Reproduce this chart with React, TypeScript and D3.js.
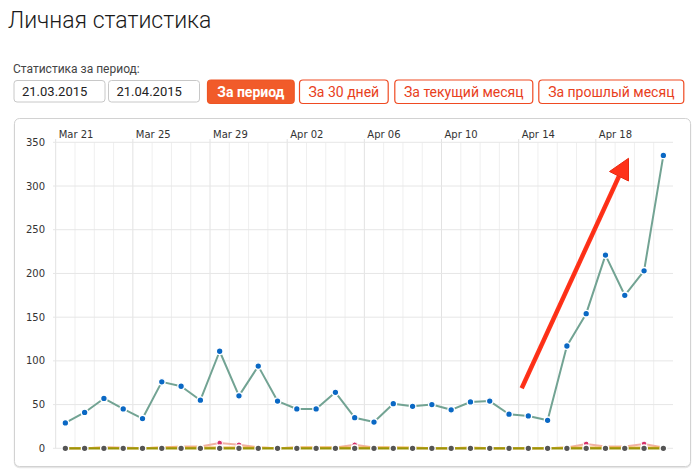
import React from "react";
import * as d3 from "d3";

const W = 700;
const H = 476;

// Data
const startDate = Date.UTC(2015, 2, 21);
const endDate = Date.UTC(2015, 3, 22);
const visits = [29, 41, 57, 45, 34, 76, 71, 55, 111, 60, 94, 54, 45, 45, 64, 35, 30, 51, 48, 50, 44, 53, 54, 39, 37, 32, 117, 154, 221, 175, 203, 335];
const pinkSeries = [0, 0, 1, 1, 0, 1, 2, 2, 6, 4, 1, 0, 1, 1, 1, 4, 1, 1, 0, 0, 0, 0, 0, 0, 0, 0, 1, 5, 2, 2, 5, 1];
const orangeSeries = [0, 0, 1, 0, 0, 1, 1, 1, 1, 1, 1, 0, 1, 1, 1, 1, 1, 1, 1, 0, 0, 1, 0, 0, 0, 0, 1, 1, 1, 1, 1, 1];
const oliveSeries = visits.map(() => 0);
const greySeries = visits.map(() => 0);
const yTicks = [0, 50, 100, 150, 200, 250, 300, 350];
const buttons = ["За период", "За 30 дней", "За текущий месяц", "За прошлый месяц"];
const dateInputs = ["21.03.2015", "21.04.2015"];

const DAY = 86400000;
const dates = visits.map((_, i) => new Date(startDate + i * DAY + DAY / 2));

export default function App() {
  const x = d3.scaleUtc().domain([new Date(startDate), new Date(endDate)]).range([55.7, 673]);
  const y = d3.scaleLinear().domain([0, 350]).range([448.3, 142.3]);
  const days = d3.utcDay.range(new Date(startDate), new Date(endDate));
  const majorDays = d3.utcDay.every(1)!.range(new Date(startDate), new Date(endDate)).filter((_, i) => i % 4 === 0);
  const fmt = d3.utcFormat("%b %d");

  const line = (vals: number[]) =>
    d3.line<number>().x((_, i) => x(dates[i])).y((v) => y(v))(vals) || "";

  const btnX = [207, 299, 394.3, 538.3];
  const btnW = [86.7, 88.7, 138, 145];

  // arrow annotation
  const a0 = [521.7, 388.3];
  const tip = [628.5, 158.3];
  const w1 = [609.5, 171.5];
  const w2 = [628.5, 181];
  const base = [(w1[0] + w2[0]) / 2, (w1[1] + w2[1]) / 2];

  return (
    <div style={{ position: "fixed", left: 0, top: 0, width: W, height: H, background: "#fff" }}>
      <svg width={W} height={H} style={{ display: "block" }}>
        <text x={8} y={28} fontFamily="Roboto, sans-serif" fontWeight={300} fontSize={23} fill="#1a1a1a">
          Личная статистика
        </text>
        <text x={13} y={73} fontFamily="Roboto, sans-serif" fontSize={12} fill="#444">
          Статистика за период:
        </text>
        {dateInputs.map((d, i) => (
          <g key={d + i}>
            <rect x={14 + i * 94.5} y={80.5} width={91} height={21.5} rx={3} fill="#fff" stroke="#c8c8c8" />
            <text x={22 + i * 94.5} y={96} fontFamily="Roboto, sans-serif" fontSize={13} fill="#222">
              {d}
            </text>
          </g>
        ))}
        {buttons.map((b, i) => (
          <g key={b}>
            <rect
              x={btnX[i] + 0.5}
              y={80}
              width={btnW[i]}
              height={23.5}
              rx={3.5}
              fill={i === 0 ? "#f15b2a" : "#fff"}
              stroke={i === 0 ? "#ee5524" : "#ef4a22"}
              strokeWidth={1.2}
            />
            <text
              x={btnX[i] + btnW[i] / 2 + 0.5}
              y={96.8}
              textAnchor="middle"
              fontFamily="Roboto, sans-serif"
              fontWeight={i === 0 ? 700 : 400}
              fontSize={14}
              fill={i === 0 ? "#fff" : "#e8401c"}
            >
              {b}
            </text>
          </g>
        ))}

        {/* panel */}
        <rect x={14.5} y={119.5} width={676} height={348} rx={5} fill="none" stroke="#e6e6e6" strokeWidth={1.5} />
        <rect x={14.5} y={118.5} width={676} height={348} rx={5} fill="#fff" stroke="#d2d2d2" />

        {/* vertical grid */}
        {days.map((d, i) => (
          <line
            key={"vg" + i}
            x1={x(d)}
            x2={x(d)}
            y1={i % 4 === 0 ? 139 : 142.3}
            y2={448.3}
            stroke={i % 4 === 0 ? "#e2e2e2" : "#efefef"}
            strokeWidth={1}
          />
        ))}
        {/* horizontal grid */}
        {yTicks.map((t) => (
          <g key={"hg" + t}>
            <line x1={53} x2={673} y1={y(t)} y2={y(t)} stroke="#e6e6e6" strokeWidth={1} />
            <text x={45} y={y(t) + 3.6} textAnchor="end" fontFamily="DejaVu Sans, Verdana, sans-serif" fontSize={10} fill="#333">
              {t}
            </text>
          </g>
        ))}
        {majorDays.map((d, i) => (
          <text key={"xl" + i} x={x(d) + 3} y={137.5} fontFamily="DejaVu Sans, Verdana, sans-serif" fontSize={10} fill="#333">
            {fmt(d)}
          </text>
        ))}

        {/* low series */}
        <path d={line(pinkSeries)} fill="none" stroke="#f0a898" strokeWidth={2} strokeOpacity={0.9} />
        <path d={line(orangeSeries)} fill="none" stroke="#f3b34a" strokeWidth={2} />
        <path d={line(oliveSeries)} fill="none" stroke="#9c9508" strokeWidth={2.2} />
        {pinkSeries.map((v, i) =>
          v >= 4 ? <circle key={"pd" + i} cx={x(dates[i])} cy={y(v)} r={2.8} fill="#d8326a" stroke="#fff" strokeWidth={1} /> : null
        )}
        {greySeries.map((v, i) => (
          <circle key={"gd" + i} cx={x(dates[i])} cy={y(v)} r={3.3} fill="#555" stroke="#fff" strokeWidth={1.3} />
        ))}

        {/* main series */}
        <path d={line(visits)} fill="none" stroke="#72a393" strokeWidth={2} strokeLinejoin="round" />
        {visits.map((v, i) => (
          <circle key={"bd" + i} cx={x(dates[i])} cy={y(v)} r={3.3} fill="#0a68c4" stroke="#fff" strokeWidth={1.3} />
        ))}

        {/* arrow annotation */}
        <line x1={a0[0]} y1={a0[1]} x2={base[0]} y2={base[1]} stroke="#ff3219" strokeWidth={4.5} />
        <line x1={a0[0]} y1={a0[1]} x2={base[0]} y2={base[1]} stroke="#e5200e" strokeWidth={1} strokeOpacity={0.3} />
        <path d={`M${tip[0]},${tip[1]}L${w1[0]},${w1[1]}L${w2[0]},${w2[1]}Z`} fill="#ff3219" stroke="#e82a12" strokeWidth={1} strokeLinejoin="round" />
      </svg>
    </div>
  );
}
